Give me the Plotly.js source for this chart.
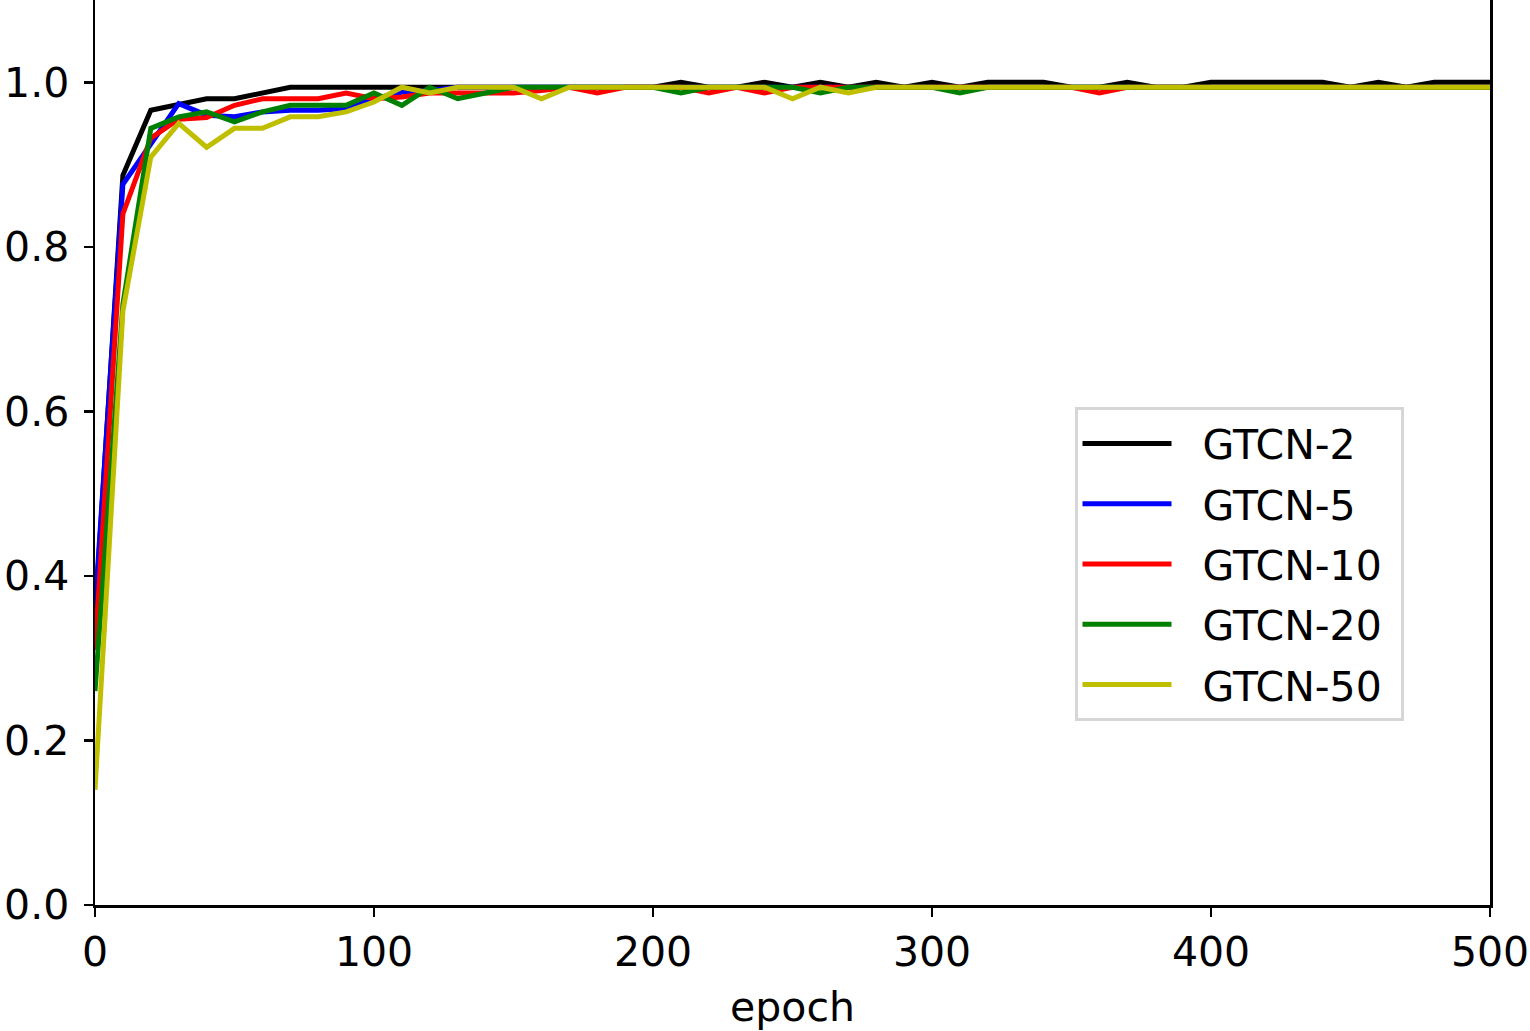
<!DOCTYPE html>
<html>
<head>
<meta charset="utf-8">
<script src="https://cdn.plot.ly/plotly-3.0.1.min.js"></script>
<style>html,body{margin:0;padding:0;background:#fff;}#chart{width:1530px;height:1031px;}</style>
</head>
<body>
<div id="chart"></div>
<script>
const epochs = [0,10,20,30,40,50,60,70,80,90,100,110,120,130,140,150,160,170,180,190,200,
  210,220,230,240,250,260,270,280,290,300,310,320,330,340,350,360,370,380,390,400,
  410,420,430,440,450,460,470,480,490,500];

const seriesNames = ["GTCN-2","GTCN-5","GTCN-10","GTCN-20","GTCN-50"];

const gtcn2 = [0.35,0.887,0.966,0.973,0.980,0.980,0.987,0.994,0.994,0.994,0.994,0.994,0.994,0.994,0.994,0.994,0.994,0.994,0.994,0.994,0.994,
  1.000,0.994,0.994,1.000,0.994,1.000,0.994,1.000,0.994,1.000,0.994,1.000,1.000,1.000,0.994,0.994,1.000,0.994,0.994,1.000,
  1.000,1.000,1.000,1.000,0.994,1.000,0.994,1.000,1.000,1.000];

const gtcn5 = [0.36,0.876,0.925,0.974,0.960,0.958,0.964,0.966,0.966,0.968,0.980,0.988,0.990,0.994,0.994,0.994,0.994,0.994,0.994,0.994,0.994,
  0.994,0.994,0.994,0.994,0.994,0.994,0.994,0.994,0.994,0.994,0.994,0.994,0.994,0.994,0.994,0.994,0.994,0.994,0.994,0.994,
  0.994,0.994,0.994,0.994,0.994,0.994,0.994,0.994,0.994,0.994];

const gtcn10 = [0.31,0.840,0.932,0.955,0.957,0.972,0.980,0.980,0.980,0.987,0.980,0.982,0.987,0.987,0.987,0.987,0.990,0.994,0.987,0.994,0.994,
  0.994,0.987,0.994,0.987,0.994,0.994,0.994,0.994,0.994,0.994,0.994,0.994,0.994,0.994,0.994,0.987,0.994,0.994,0.994,0.994,
  0.994,0.994,0.994,0.994,0.994,0.994,0.994,0.994,0.994,0.994];

const gtcn20 = [0.26,0.730,0.944,0.958,0.964,0.952,0.964,0.972,0.972,0.972,0.987,0.972,0.994,0.980,0.987,0.994,0.994,0.994,0.994,0.994,0.994,
  0.987,0.994,0.994,0.994,0.994,0.987,0.994,0.994,0.994,0.994,0.987,0.994,0.994,0.994,0.994,0.994,0.994,0.994,0.994,0.994,
  0.994,0.994,0.994,0.994,0.994,0.994,0.994,0.994,0.994,0.994];

const gtcn50 = [0.14,0.722,0.909,0.950,0.921,0.944,0.944,0.958,0.958,0.964,0.976,0.994,0.987,0.994,0.994,0.994,0.980,0.994,0.994,0.994,0.994,
  0.994,0.994,0.994,0.994,0.980,0.994,0.987,0.994,0.994,0.994,0.994,0.994,0.994,0.994,0.994,0.994,0.994,0.994,0.994,0.994,
  0.994,0.994,0.994,0.994,0.994,0.994,0.994,0.994,0.994,0.994];

const xTicks = [0,100,200,300,400,500];
const yTicks = [0.0,0.2,0.4,0.6,0.8,1.0];
const colors = ["#000000","#0000ff","#ff0000","#008000","#bfbf00"];
const allSeries = [gtcn2,gtcn5,gtcn10,gtcn20,gtcn50];

const traces = allSeries.map((ys,i)=>({
  x: epochs, y: ys, name: "\u00a0\u00a0" + seriesNames[i] + "\u00a0", type: "scatter", mode: "lines",
  legendgroup: "g" + i,
  line: {color: colors[i], width: 5}
}));

const font = {family: "DejaVu Sans", size: 41, color: "#000"};
const layout = {
  width: 1530, height: 1031,
  margin: {l: 95, r: 40, t: 0, b: 126, pad: 0},
  paper_bgcolor: "#fff", plot_bgcolor: "#fff",
  font: font,
  showlegend: true,
  legend: {
    x: 0.938, y: 0.55, xanchor: "right", yanchor: "top",
    bgcolor: "rgba(255,255,255,0.8)", bordercolor: "#d6d6d6", borderwidth: 3,
    font: font,
    itemwidth: 89, tracegroupgap: 4
  },
  xaxis: {
    range: [0, 500], tickvals: xTicks, ticktext: xTicks.map(String),
    showgrid: false, zeroline: false,
    showline: true, linecolor: "#000", linewidth: 2.5, mirror: true,
    ticks: "outside", ticklen: 9, tickwidth: 2.5, tickcolor: "#000",
    tickfont: font,
    title: {text: "epoch", font: font, standoff: 22}
  },
  yaxis: {
    range: [0, 1.1], tickvals: yTicks, ticktext: yTicks.map(v=>v.toFixed(1)),
    showgrid: false, zeroline: false,
    showline: true, linecolor: "#000", linewidth: 2.5, mirror: true,
    ticks: "outside", ticklen: 9, tickwidth: 2.5, tickcolor: "#000",
    ticklabelstandoff: 6,
    tickfont: font
  }
};

Plotly.newPlot("chart", traces, layout, {displayModeBar: false, staticPlot: true});
</script>
</body>
</html>
